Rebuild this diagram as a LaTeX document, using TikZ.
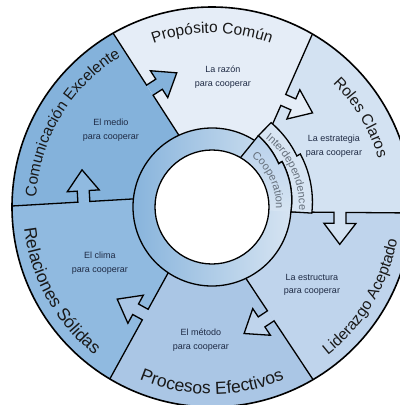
\documentclass[tikz,border=0pt]{standalone}
\usepackage{fontspec}
\setmainfont{Liberation Sans}
\usetikzlibrary{decorations.text}
\definecolor{cCom}{HTML}{84B2DB}
\definecolor{cPro}{HTML}{E5EDF7}
\definecolor{cRol}{HTML}{D3E2F2}
\definecolor{cLid}{HTML}{BFD4EC}
\definecolor{cPrc}{HTML}{AAC6E5}
\definecolor{cRel}{HTML}{90BAE0}
\definecolor{cRingL}{HTML}{88B4DC}
\definecolor{cRingR}{HTML}{D6E4F2}
\definecolor{cInt}{HTML}{D8E5F3}
\definecolor{cCoop}{HTML}{B9D1EC}
\definecolor{cTxt}{HTML}{1E2A44}
\definecolor{cGray}{HTML}{66707C}
\newcommand\lblf{\fontsize{15.5}{18}\selectfont}
\newcommand\lblbig{\fontsize{17.5}{20}\selectfont}
\newcommand\bandf{\fontsize{11}{12}\selectfont}
% boundary: name, ox, oy, psi, L
\newcommand\bdef[5]{%
  \begin{scope}[shift={(#2,#3)}, rotate=#4]
    \coordinate (#1f) at (-60,0);
    \coordinate (#1i) at ({#5+6},0);
  \end{scope}}
% arrow on boundary: ox, oy, psi, ac, fill colour, L
\newcommand\barrow[6]{%
  \begin{scope}[shift={(#1,#2)}, rotate=#3]
    \fill[#5] ({#4-6},0) -- ({#4-6},11) -- ({#4-16},11) -- (#4,32) -- ({#4+16},11) -- ({#4+6},11) -- ({#4+6},0) -- cycle;
    \draw[bline] (-60,0) -- ({#4-6},0) -- ({#4-6},11) -- ({#4-16},11) -- (#4,32) -- ({#4+16},11) -- ({#4+6},11) -- ({#4+6},0) -- ({#6+4},0);
  \end{scope}}
\begin{document}
\begin{tikzpicture}[x=1pt,y=1pt,
  bline/.style={line width=1.3pt, line join=miter, black},
  small/.style={font=\fontsize{9}{13.5}\selectfont, text=cTxt, align=center},
  toplbl/.style={decorate, decoration={text along path, text align=center, text color=black!90}},
]
\useasboundingbox (-212,-198) rectangle (188,207);
\clip (-212,-198) rectangle (188,207);
\begin{scope}
  \clip (0,0) circle (200);
  \bdef{b180}{-200}{1}{3.34}{120.2}
  \bdef{b120}{-99}{174}{-57.2}{123.7}
  \bdef{b60}{100}{172}{246.15}{103.9}
  \bdef{b0}{200}{-6}{179.5}{120}
  \bdef{b300}{98}{-168}{123.55}{114}
  \bdef{b240}{-100}{-168}{61.2}{114.1}
  \fill[cCom] (b120f) -- (b120i) -- (0,0) -- (b180i) -- (b180f) -- cycle;
  \fill[cPro] (b60f) -- (b60i) -- (0,0) -- (b120i) -- (b120f) -- cycle;
  \fill[cRol] (b0f) -- (b0i) -- (0,0) -- (b60i) -- (b60f) -- cycle;
  \fill[cLid] (b300f) -- (b300i) -- (0,0) -- (b0i) -- (b0f) -- cycle;
  \fill[cPrc] (b240f) -- (b240i) -- (0,0) -- (b300i) -- (b300f) -- cycle;
  \fill[cRel] (b180f) -- (b180i) -- (0,0) -- (b240i) -- (b240f) -- cycle;
  \barrow{-200}{1}{3.34}{72}{cRel}{120.2}
  \barrow{-99}{174}{-57.2}{68}{cCom}{123.7}
  \barrow{100}{172}{246.15}{71}{cPro}{103.9}
  \barrow{200}{-6}{179.5}{72}{cRol}{120}
  \barrow{98}{-168}{123.55}{71}{cLid}{114}
  \barrow{-100}{-168}{61.2}{69}{cPrc}{114.1}
\end{scope}
% interdependence band (spiral edges with a step)
\filldraw[bline, fill=cInt] (57:85) -- (55:103)
  -- plot[domain=55:31, samples=13] (\x:{99+4*(\x-31)/24})
  -- plot[domain=31:-3.5, samples=18] (\x:{100+3*(\x+3.5)/34.5})
  -- (-3.5:79)
  -- plot[domain=-3.5:33, samples=18] (\x:{79+4.5*(\x+3.5)/36.5})
  -- plot[domain=33:57, samples=13] (\x:{79.5+5.5*(\x-33)/24})
  -- cycle;
% ring
\shade[left color=cRingL, right color=cRingR] (0,0) circle (79);
\shade[top color=cCoop, bottom color=cRingR] (60:57) -- (57:85)
  -- plot[domain=57:33, samples=13] (\x:{79.5+5.5*(\x-33)/24})
  -- plot[domain=33:-3.5, samples=18] (\x:{79+4.5*(\x+3.5)/36.5})
  -- (-3.5:57) arc[start angle=-3.5, end angle=60, radius=57] -- cycle;
\draw[bline] (57:85)
  -- plot[domain=57:33, samples=13] (\x:{79.5+5.5*(\x-33)/24})
  -- plot[domain=33:-3.5, samples=18] (\x:{79+4.5*(\x+3.5)/36.5});
\draw[bline] (60:57) -- (57:85);
\draw[bline] (58:79) arc[start angle=58, end angle=356.5, radius=79];
\filldraw[bline, fill=white] (0,0) circle (57);
\draw[line width=1.6pt] (0,0) circle (200);
% small labels
\node[small] (tPro) at (11,130) {La razón\\para cooperar};
\node[small] (tRol) at (122,61) {La estrategia\\para cooperar};
\node[small] (tCom) at (-101,77) {El medio\\para cooperar};
\node[small] (tRel) at (-112,-56) {El clima\\para cooperar};
\node[small] (tPrc) at (-11,-133) {El método\\para cooperar};
\node[small] (tLid) at (100,-78) {La estructura\\para cooperar};
% curved labels
\path[toplbl, decoration={text={|\lblf|Propósito Común}}] (130:174) arc[start angle=130, end angle=50, radius=174];
\path[toplbl, decoration={text={|\lblf|Roles Claros}}] (71:173) arc[start angle=71, end angle=-9, radius=173];
\path[toplbl, decoration={text={|\lblf|Comunicación Excelente}}] (194:176) arc[start angle=194, end angle=104, radius=176];
\path[toplbl, decoration={text={|\lblbig|Relaciones Sólidas}}] (164:189) arc[start angle=164, end angle=254, radius=189];
\path[toplbl, decoration={text={|\lblbig|Procesos Efectivos}}] (225:187) arc[start angle=225, end angle=315, radius=187];
\path[toplbl, decoration={text={|\lblf|Liderazgo Aceptado}}] (284:188) arc[start angle=284, end angle=374, radius=188];
\path[toplbl, decoration={text={|\bandf|Cooperation}, text color=cGray}] (75:64) arc[start angle=75, end angle=-25, radius=64];
\path[toplbl, decoration={text={|\bandf|Interdependence}, text color=cGray}] (80:87) arc[start angle=80, end angle=-30, radius=87];
\end{tikzpicture}
\end{document}
